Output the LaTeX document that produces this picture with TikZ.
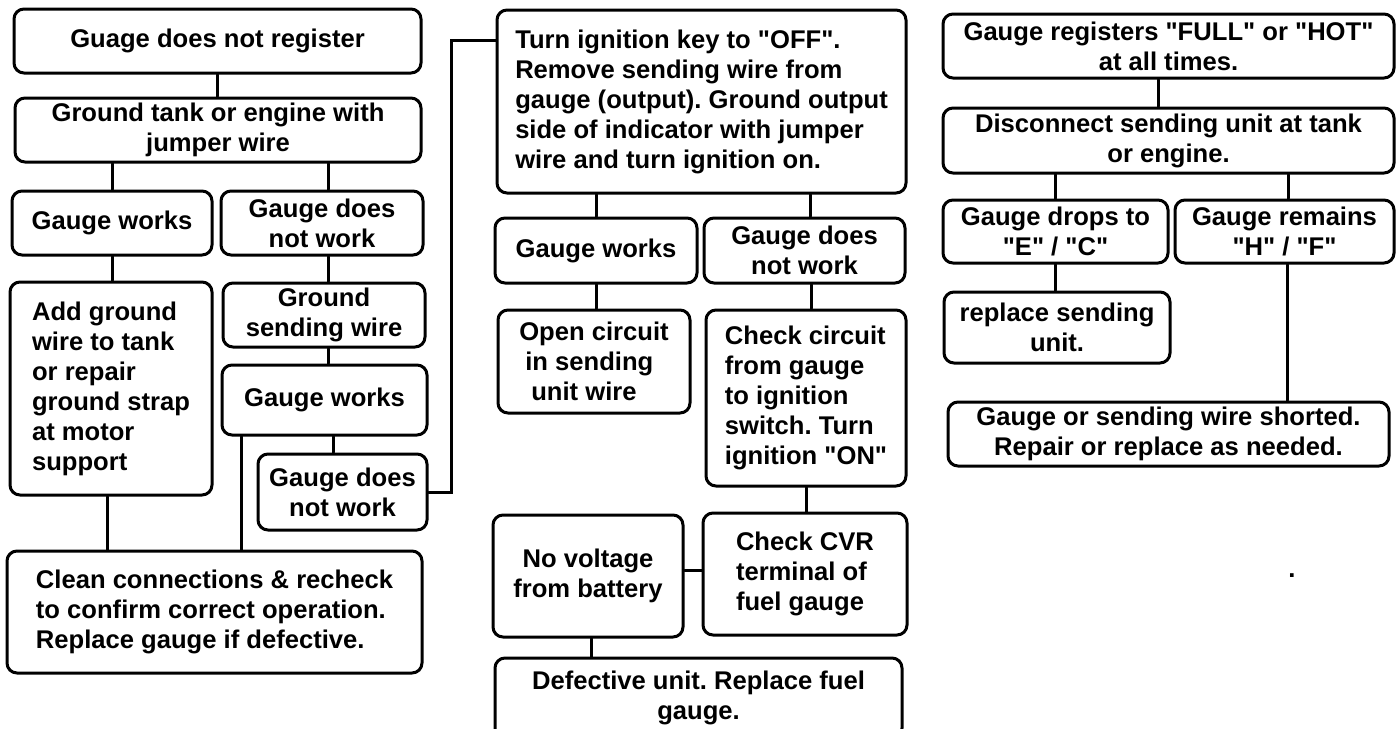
\documentclass[tikz,border=0pt]{standalone}
\usepackage{fontspec}
\setmainfont{Liberation Sans}[Ligatures=TeXOff]
\frenchspacing
\usetikzlibrary{calc}

\begin{document}
\begin{tikzpicture}[
  x=0.5pt, y=-0.5pt,
  line cap=round,
  line width=1.5pt,
  every node/.style={font=\fontsize{12.8}{15}\selectfont\bfseries},
  box/.style={draw, rounded corners=5pt, align=center, inner sep=2pt}
]
  \useasboundingbox (0,0) rectangle (1400,728);

  % Left column: gauge does not register
  \node[box, minimum width=203.5pt, minimum height=32pt] (reg) at (217.5,41) {Guage does not register};
  \node[box, minimum width=203pt, minimum height=32pt] (jump) at (218,130) {Ground tank or engine with\\jumper wire};
  \node[box, minimum width=100pt, minimum height=32pt] (gw1) at (112,223) {Gauge works};
  \node[box, minimum width=101pt, minimum height=32pt] (gdnw1) at (322,223) {Gauge does\\not work};
  \node[box, align=left, minimum width=101pt, minimum height=106.5pt] (addgnd) at (111,388.5)
    {Add ground\\wire to tank\\or repair\\ground strap\\at motor\\support};
  \node[box, minimum width=101pt, minimum height=32pt] (gsend) at (324,315) {Ground\\sending wire};
  \node[box, minimum width=102.5pt, minimum height=35pt] (gw2) at (324.5,400) {Gauge works};
  \node[box, minimum width=84.5pt, minimum height=38pt] (gdnw2) at (342.5,492) {Gauge does\\not work};
  \node[box, align=left, minimum width=207.5pt, minimum height=61pt] (clean) at (214.5,612)
    {Clean connections \& recheck\\to confirm correct operation.\\Replace gauge if defective.};

  % Centre column: ignition test
  \node[box, align=left, minimum width=204.5pt, minimum height=91.5pt] (turn) at (701.5,101.5)
    {Turn ignition key to "OFF".\\Remove sending wire from\\gauge (output). Ground output\\side of indicator with jumper\\wire and turn ignition on.};
  \node[box, minimum width=101pt, minimum height=32.5pt] (gw3) at (596,250.5) {Gauge works};
  \node[box, minimum width=100.5pt, minimum height=32.5pt] (gdnw3) at (804.5,250.5) {Gauge does\\not work};
  \node[box, align=left, minimum width=96pt, minimum height=51.5pt] (open) at (594,361.5)
    {Open circuit\\\hspace*{3pt}in sending\\\hspace*{6pt}unit wire};
  \node[box, align=left, minimum width=100pt, minimum height=88pt] (chk) at (806,398)
    {Check circuit\\from gauge\\to ignition\\switch. Turn\\ignition "ON"};
  \node[box, align=left, minimum width=102pt, minimum height=61pt] (cvr) at (805,574)
    {Check CVR\\terminal of\\fuel gauge};
  \node[box, minimum width=95pt, minimum height=61pt] (novolt) at (588,576) {No voltage\\from battery};
  \node[box, minimum width=203.5pt, minimum height=40pt] (defect) at (698.5,698)
    {Defective unit. Replace fuel\\gauge.};

  % Right column: gauge reads full
  \node[box, minimum width=225.5pt, minimum height=32pt] (full) at (1168.5,46)
    {Gauge registers "FULL" or "HOT"\\at all times.};
  \node[box, minimum width=225.5pt, minimum height=32.5pt] (disc) at (1168.5,140.5)
    {Disconnect sending unit at tank\\or engine.};
  \node[box, minimum width=112.5pt, minimum height=31.5pt] (drops) at (1055.5,231.5) {Gauge drops to\\"E" / "C"};
  \node[box, minimum width=109.5pt, minimum height=31.5pt] (remains) at (1284.5,231.5) {Gauge remains\\"H" / "F"};
  \node[box, minimum width=113pt, minimum height=35.5pt] (repl) at (1057,327.5) {replace sending\\unit.};
  \node[box, minimum width=220.5pt, minimum height=32pt] (short) at (1168.5,434)
    {Gauge or sending wire shorted.\\Repair or replace as needed.};
  \node[anchor=base] (dot) at (1292,577) {.};

  % Left connectors
  \draw (reg.south) -- (reg.south |- jump.north);
  \draw (gw1.north) -- (gw1.north |- jump.south);
  \draw ([xshift=3pt]gdnw1.north) -- ([xshift=3pt]gdnw1.north |- jump.south);
  \draw (gw1.south) -- (gw1.south |- addgnd.north);
  \draw ([xshift=2pt]gsend.north) -- ([xshift=2pt]gsend.north |- gdnw1.south);
  \draw ([xshift=2pt]gsend.south) -- ([xshift=2pt]gsend.south |- gw2.north);
  \draw ([xshift=-4.75pt]gdnw2.north) -- ([xshift=-4.75pt]gdnw2.north |- gw2.south);
  \draw ([xshift=10.5pt]gw2.south west) -- ([xshift=10.5pt]gw2.south west |- clean.north);
  \draw ([xshift=-2pt]addgnd.south) -- ([xshift=-2pt]addgnd.south |- clean.north);
  \draw (gdnw2.east) -- ++(23,0) |- ([yshift=-16pt]turn.north west);

  % Centre connectors
  \draw (gw3.north) -- (gw3.north |- turn.south);
  \draw ([xshift=2.75pt]gdnw3.north) -- ([xshift=2.75pt]gdnw3.north |- turn.south);
  \draw (gw3.south) -- (gw3.south |- open.north);
  \draw ([xshift=2.5pt]chk.north) -- ([xshift=2.5pt]chk.north |- gdnw3.south);
  \draw (chk.south) -- (chk.south |- cvr.north);
  \draw ([yshift=3pt]novolt.east) -- ([yshift=3pt]novolt.east -| cvr.west);
  \draw ([xshift=1.5pt]novolt.south) -- ([xshift=1.5pt]novolt.south |- defect.north);

  % Right connectors
  \draw ([xshift=-5pt]full.south) -- ([xshift=-5pt]full.south |- disc.north);
  \draw (drops.north) -- (drops.north |- disc.south);
  \draw ([xshift=2pt]remains.north) -- ([xshift=2pt]remains.north |- disc.south);
  \draw (drops.south) -- (drops.south |- repl.north);
  \draw ([xshift=1.5pt]remains.south) -- ([xshift=1.5pt]remains.south |- short.north);
\end{tikzpicture}
\end{document}
